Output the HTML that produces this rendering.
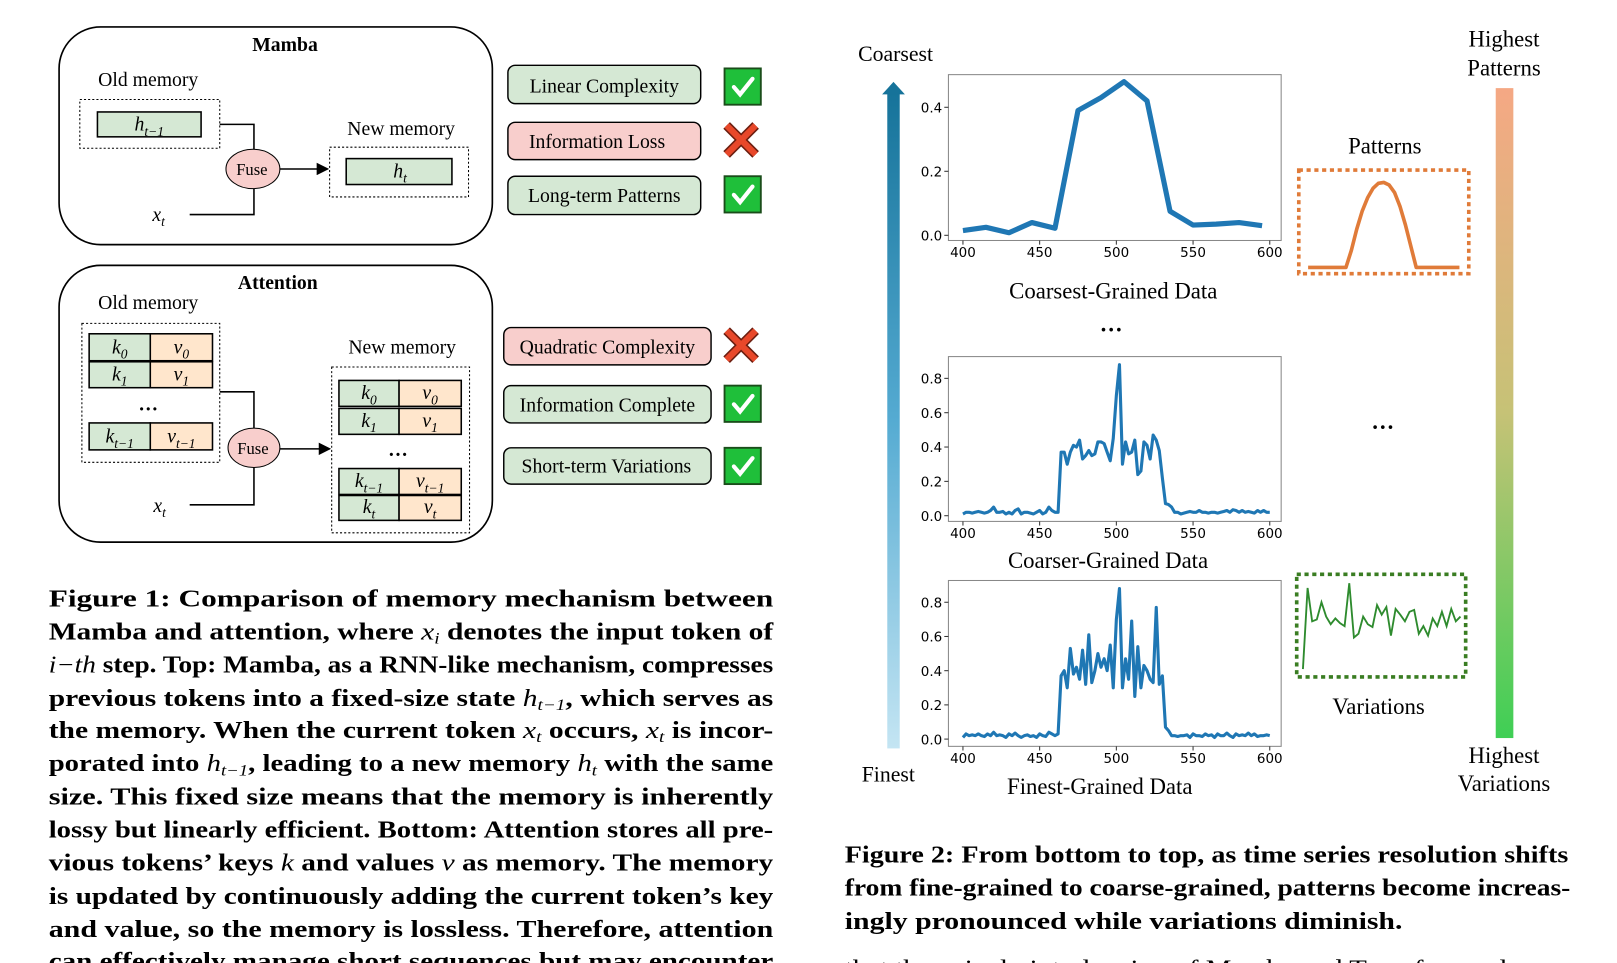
<!DOCTYPE html>
<html><head><meta charset="utf-8"><style>
html,body{margin:0;padding:0;background:#fff;overflow:hidden}
svg{display:block}
.serif{font-family:"Liberation Serif",serif}
.sans{font-family:"DejaVu Sans","Liberation Sans",sans-serif}
</style></head><body>
<svg id="root" width="1617" height="963" viewBox="0 0 1560 929" preserveAspectRatio="none" xmlns="http://www.w3.org/2000/svg">
<defs>
<linearGradient id="gBlue" x1="0" y1="0" x2="0" y2="1"><stop offset="0" stop-color="#16739a"/><stop offset="0.5" stop-color="#55abd2"/><stop offset="1" stop-color="#c4e5f3"/></linearGradient>
<linearGradient id="gOG" x1="0" y1="0" x2="0" y2="1"><stop offset="0" stop-color="#f5a884"/><stop offset="0.5" stop-color="#c6c276"/><stop offset="1" stop-color="#3fcf55"/></linearGradient>
<marker id="arr" markerWidth="8" markerHeight="8" refX="7" refY="4" orient="auto"><path d="M0,0 L8,4 L0,8 z" fill="#000"/></marker>
</defs>

<!-- ===== Mamba panel ===== -->
<g class="serif">
<rect x="57" y="26" width="418" height="210" rx="40" fill="none" stroke="#000" stroke-width="1.6"/>
<text x="275" y="49" text-anchor="middle" font-size="19" font-weight="bold">Mamba</text>
<text x="143" y="83" text-anchor="middle" font-size="19">Old memory</text>
<rect x="77" y="96" width="135" height="47" fill="none" stroke="#000" stroke-dasharray="2,2"/>
<rect x="94" y="108" width="100" height="24" fill="#d5e8d4" stroke="#000" stroke-width="1.5"/>
<text x="144" y="126" text-anchor="middle" font-size="19" font-style="italic">h<tspan font-size="13" dy="5">t−1</tspan></text>
<polyline points="212,120 245,120 245,144" fill="none" stroke="#000" stroke-width="1.5"/>
<polyline points="183,207 245,207 245,182" fill="none" stroke="#000" stroke-width="1.5"/>
<ellipse cx="244" cy="163" rx="26" ry="19" fill="#f8cecc" stroke="#000" stroke-width="1"/>
<text x="243" y="169" text-anchor="middle" font-size="16">Fuse</text>
<line x1="270" y1="163" x2="316" y2="163" stroke="#000" stroke-width="1.5" marker-end="url(#arr)"/>
<text x="387" y="130" text-anchor="middle" font-size="19">New memory</text>
<rect x="318" y="142" width="134" height="48" fill="none" stroke="#000" stroke-dasharray="2,2"/>
<rect x="334" y="153" width="102" height="25" fill="#d5e8d4" stroke="#000" stroke-width="1.5"/>
<text x="386" y="171" text-anchor="middle" font-size="19" font-style="italic">h<tspan font-size="13" dy="5">t</tspan></text>
<text x="153" y="213" text-anchor="middle" font-size="19" font-style="italic">x<tspan font-size="13" dy="5">t</tspan></text>
</g>

<g class="serif" font-size="19">
<rect x="490" y="63" width="186" height="37" rx="7" fill="#d5e8d4" stroke="#000" stroke-width="1.4"/>
<text x="583" y="89" text-anchor="middle">Linear Complexity</text>
<rect x="490" y="118" width="186" height="36" rx="7" fill="#f8cecc" stroke="#000" stroke-width="1.4"/>
<text x="576" y="143" text-anchor="middle">Information Loss</text>
<rect x="490" y="170" width="186" height="37" rx="7" fill="#d5e8d4" stroke="#000" stroke-width="1.4"/>
<text x="583" y="195" text-anchor="middle">Long-term Patterns</text>
</g>

<!-- ===== Attention panel ===== -->
<g class="serif">
<rect x="57" y="256" width="418" height="267" rx="40" fill="none" stroke="#000" stroke-width="1.6"/>
<text x="268" y="279" text-anchor="middle" font-size="19" font-weight="bold">Attention</text>
<text x="143" y="298" text-anchor="middle" font-size="19">Old memory</text>
<rect x="79" y="312" width="133" height="134" fill="none" stroke="#000" stroke-dasharray="2,2"/>
<g id="oldkv"></g>
<text x="143" y="396" text-anchor="middle" font-size="19" font-weight="bold">…</text>
<polyline points="212,378 245,378 245,413" fill="none" stroke="#000" stroke-width="1.5"/>
<polyline points="183,487 245,487 245,451" fill="none" stroke="#000" stroke-width="1.5"/>
<ellipse cx="245" cy="432" rx="25" ry="19" fill="#f8cecc" stroke="#000" stroke-width="1"/>
<text x="244" y="438" text-anchor="middle" font-size="16">Fuse</text>
<line x1="270" y1="433" x2="318" y2="433" stroke="#000" stroke-width="1.5" marker-end="url(#arr)"/>
<text x="388" y="341" text-anchor="middle" font-size="19">New memory</text>
<rect x="320" y="354" width="133" height="160" fill="none" stroke="#000" stroke-dasharray="2,2"/>
<g id="newkv"></g>
<text x="384" y="440" text-anchor="middle" font-size="19" font-weight="bold">…</text>
<text x="154" y="494" text-anchor="middle" font-size="19" font-style="italic">x<tspan font-size="13" dy="5">t</tspan></text>
</g>

<g class="serif" font-size="19">
<rect x="486" y="316" width="200" height="36" rx="7" fill="#f8cecc" stroke="#000" stroke-width="1.4"/>
<text x="586" y="341" text-anchor="middle">Quadratic Complexity</text>
<rect x="486" y="372" width="200" height="36" rx="7" fill="#d5e8d4" stroke="#000" stroke-width="1.4"/>
<text x="586" y="397" text-anchor="middle">Information Complete</text>
<rect x="486" y="432" width="200" height="35" rx="7" fill="#d5e8d4" stroke="#000" stroke-width="1.4"/>
<text x="585" y="456" text-anchor="middle">Short-term Variations</text>
</g>

<g id="marks"></g>

<!-- ===== Figure 1 caption ===== -->
<g class="serif" font-size="23" font-weight="bold">
<text x="47" y="585" textLength="699" lengthAdjust="spacingAndGlyphs">Figure 1: Comparison of memory mechanism between</text>
<text x="47" y="617" textLength="699" lengthAdjust="spacingAndGlyphs">Mamba and attention, where <tspan font-weight="normal" font-style="italic">x</tspan><tspan font-weight="normal" font-style="italic" font-size="15" dy="4">i</tspan><tspan dy="-4"> denotes the input token of</tspan></text>
<text x="47" y="649" textLength="699" lengthAdjust="spacingAndGlyphs"><tspan font-weight="normal" font-style="italic">i−th</tspan> step. Top: Mamba, as a RNN-like mechanism, compresses</text>
<text x="47" y="681" textLength="699" lengthAdjust="spacingAndGlyphs">previous tokens into a fixed-size state <tspan font-weight="normal" font-style="italic">h</tspan><tspan font-weight="normal" font-style="italic" font-size="15" dy="4">t−1</tspan><tspan dy="-4">, which serves as</tspan></text>
<text x="47" y="712" textLength="699" lengthAdjust="spacingAndGlyphs">the memory. When the current token <tspan font-weight="normal" font-style="italic">x</tspan><tspan font-weight="normal" font-style="italic" font-size="15" dy="4">t</tspan><tspan dy="-4"> occurs, </tspan><tspan font-weight="normal" font-style="italic">x</tspan><tspan font-weight="normal" font-style="italic" font-size="15" dy="4">t</tspan><tspan dy="-4"> is incor-</tspan></text>
<text x="47" y="744" textLength="699" lengthAdjust="spacingAndGlyphs">porated into <tspan font-weight="normal" font-style="italic">h</tspan><tspan font-weight="normal" font-style="italic" font-size="15" dy="4">t−1</tspan><tspan dy="-4">, leading to a new memory </tspan><tspan font-weight="normal" font-style="italic">h</tspan><tspan font-weight="normal" font-style="italic" font-size="15" dy="4">t</tspan><tspan dy="-4"> with the same</tspan></text>
<text x="47" y="776" textLength="699" lengthAdjust="spacingAndGlyphs">size. This fixed size means that the memory is inherently</text>
<text x="47" y="808" textLength="699" lengthAdjust="spacingAndGlyphs">lossy but linearly efficient. Bottom: Attention stores all pre-</text>
<text x="47" y="840" textLength="699" lengthAdjust="spacingAndGlyphs">vious tokens’ keys <tspan font-weight="normal" font-style="italic">k</tspan> and values <tspan font-weight="normal" font-style="italic">v</tspan> as memory. The memory</text>
<text x="47" y="872" textLength="699" lengthAdjust="spacingAndGlyphs">is updated by continuously adding the current token’s key</text>
<text x="47" y="904" textLength="699" lengthAdjust="spacingAndGlyphs">and value, so the memory is lossless. Therefore, attention</text>
<text x="47" y="935" textLength="699" lengthAdjust="spacingAndGlyphs">can effectively manage short sequences but may encounter</text>
</g>

<!-- ===== Figure 2 ===== -->
<g>
<text class="serif" x="864" y="59" text-anchor="middle" font-size="21">Coarsest</text>
<rect x="856" y="90" width="12" height="632" fill="url(#gBlue)"/>
<polygon points="851,91 862,79 873,91" fill="#16739a"/>
<text class="serif" x="857" y="754" text-anchor="middle" font-size="21">Finest</text>
</g>
<g id="charts"></g>
<g class="serif" font-size="22">
<text x="1074" y="288" text-anchor="middle">Coarsest-Grained Data</text>
<text x="1072" y="320" text-anchor="middle" font-weight="bold">…</text>
<text x="1069" y="548" text-anchor="middle">Coarser-Grained Data</text>
<text x="1061" y="766" text-anchor="middle">Finest-Grained Data</text>
<text x="1336" y="148" text-anchor="middle">Patterns</text>
<text x="1334" y="414" text-anchor="middle" font-weight="bold">…</text>
<text x="1330" y="689" text-anchor="middle">Variations</text>
<text x="1451" y="45" text-anchor="middle">Highest</text>
<text x="1451" y="73" text-anchor="middle">Patterns</text>
<text x="1451" y="736" text-anchor="middle">Highest</text>
<text x="1451" y="763" text-anchor="middle">Variations</text>
</g>
<rect x="1443" y="85" width="17" height="627" fill="url(#gOG)"/>
<rect x="1253" y="164" width="164" height="100" fill="none" stroke="#e07b39" stroke-width="3.5" stroke-dasharray="4,3.5"/>
<rect x="1251" y="554" width="163" height="99" fill="none" stroke="#3a7d22" stroke-width="3.5" stroke-dasharray="4,3.5"/>
<g id="sparks"></g>

<g class="serif" font-size="23" font-weight="bold">
<text x="815" y="832" textLength="698" lengthAdjust="spacingAndGlyphs">Figure 2: From bottom to top, as time series resolution shifts</text>
<text x="815" y="864" textLength="700" lengthAdjust="spacingAndGlyphs">from fine-grained to coarse-grained, patterns become increas-</text>
<text x="815" y="896" textLength="538" lengthAdjust="spacingAndGlyphs">ingly pronounced while variations diminish.</text>
</g>
<text class="serif" x="815" y="942" font-size="23" textLength="698" lengthAdjust="spacingAndGlyphs">that the naively interleaving of Mamba and Transformer layers</text>
</svg>

<script>
const coarsestX = [400,415,430,445,460,475,490,505,520,535,550,565,580,595];
const coarsestY = [0.015,0.025,0.008,0.04,0.022,0.39,0.43,0.48,0.42,0.075,0.032,0.035,0.04,0.03];
const coarserY = [0.01,0.02,0.02,0.015,0.02,0.025,0.02,0.015,0.02,0.03,0.05,0.02,0.02,0.025,0.01,0.02,0.01,0.03,0.04,0.01,0.02,0.02,0.015,0.01,0.02,0.03,0.01,0.02,0.05,0.03,0.02,
0.02,0.37,0.37,0.30,0.37,0.41,0.40,0.44,0.33,0.35,0.38,0.35,0.36,0.43,0.43,0.42,0.37,0.32,0.45,0.70,0.88,0.30,0.43,0.36,0.37,0.44,0.24,0.26,0.43,0.41,0.33,0.47,0.44,0.38,0.22,0.07,0.065,0.05,0.02,0.02,0.01,
0.015,0.02,0.025,0.02,0.02,0.03,0.02,0.02,0.015,0.02,0.02,0.015,0.02,0.025,0.03,0.02,0.035,0.03,0.02,0.03,0.02,0.025,0.02,0.015,0.03,0.02,0.03,0.02,0.02];
const finestY = [0.01,0.03,0.02,0.025,0.02,0.03,0.02,0.015,0.03,0.02,0.04,0.02,0.025,0.02,0.01,0.03,0.02,0.035,0.02,0.01,0.02,0.025,0.015,0.02,0.01,0.03,0.02,0.015,0.04,0.03,0.02,
0.03,0.37,0.40,0.30,0.53,0.38,0.42,0.35,0.52,0.32,0.61,0.33,0.40,0.50,0.42,0.47,0.40,0.55,0.30,0.70,0.88,0.30,0.47,0.35,0.69,0.25,0.54,0.30,0.43,0.40,0.35,0.33,0.77,0.32,0.37,0.07,0.05,0.02,0.02,0.015,0.02,
0.02,0.025,0.01,0.03,0.02,0.02,0.015,0.03,0.02,0.025,0.01,0.03,0.02,0.02,0.035,0.02,0.01,0.03,0.02,0.025,0.02,0.035,0.02,0.03,0.015,0.02,0.02,0.025,0.02];
const xTicks = [400,450,500,550,600];
const coarsestTicks = [0.0,0.2,0.4];
const fineTicks = [0.0,0.2,0.4,0.6,0.8];
const patternShape = [0,0,0,0,0,0,0,0,0.2,0.45,0.66,0.82,0.93,0.99,1,0.97,0.88,0.72,0.5,0.25,0,0,0,0,0,0,0,0,0];
const variationShape = [0.05,0.9,0.55,0.57,0.75,0.6,0.52,0.58,0.53,0.5,0.95,0.38,0.42,0.6,0.52,0.49,0.72,0.62,0.7,0.4,0.68,0.62,0.55,0.65,0.67,0.42,0.5,0.4,0.58,0.5,0.65,0.5,0.68,0.55,0.6];

const NS='http://www.w3.org/2000/svg';
function mk(tag, attrs, parent){const e=document.createElementNS(NS,tag);for(const k in attrs)e.setAttribute(k,attrs[k]);parent.appendChild(e);return e;}

const step2X = coarserY.map((_,i)=>400+2*i);

function drawChart(name, box, ymin, ymax, yticks, xs, ys, lw){
  const g=mk('g',{},document.getElementById('charts'));
  
  
  const xS=v=>929+(v-400)*1.48;
  const yS=v=>box.y0+(v-ymin)/(ymax-ymin)*(box.y1-box.y0);
  const d=xs.map((x,i)=>(i?'L':'M')+xS(x).toFixed(1)+','+yS(ys[i]).toFixed(1)).join(' ');
  const line=mk('path',{d:d,fill:'none',stroke:'#1f77b4','stroke-width':lw,'stroke-linejoin':'round'},g);
  
  
  const frame=mk('rect',{x:915,y:box.top,width:321,height:box.bot-box.top,fill:'none',stroke:'#888','stroke-width':1},g);
  
  
  yticks.forEach(t=>{
    const y=yS(t);
    mk('line',{x1:911,x2:915,y1:y,y2:y,stroke:'#333'},g);
    const tx=mk('text',{x:909,y:y+5,'text-anchor':'end','font-size':13,class:'sans'},g);
    
    
    tx.textContent=t.toFixed(1);
  });
  xTicks.forEach(t=>{
    const x=xS(t);
    mk('line',{x1:x,x2:x,y1:box.bot,y2:box.bot+4,stroke:'#333'},g);
    const tx=mk('text',{x:x,y:box.bot+16,'text-anchor':'middle','font-size':13,class:'sans'},g);
    
    
    tx.textContent=t;
  });
}
drawChart('coarsest-chart',{top:72,bot:232,y0:227,y1:103.5},0,0.4,coarsestTicks,coarsestX,coarsestY,5);
drawChart('coarser-chart',{top:344,bot:503,y0:497.5,y1:365},0,0.8,fineTicks,step2X,coarserY,3);
drawChart('finest-chart',{top:560,bot:720,y0:713,y1:581},0,0.8,fineTicks,step2X,finestY,3);

(function(){
  const sp=document.getElementById('sparks');
  const n1=patternShape.length;
  const d1=patternShape.map((v,i)=>(i?'L':'M')+(1262+i*(146/(n1-1))).toFixed(1)+','+(258-v*82).toFixed(1)).join(' ');
  const p=mk('path',{d:d1,fill:'none',stroke:'#e07b39','stroke-width':3.5,'stroke-linejoin':'round'},sp);
  
  
  const n2=variationShape.length;
  const d2=variationShape.map((v,i)=>(i?'L':'M')+(1257+i*(152/(n2-1))).toFixed(1)+','+(650-v*92).toFixed(1)).join(' ');
  const q=mk('path',{d:d2,fill:'none',stroke:'#2e8b2e','stroke-width':1.8},sp);
  
  
})();

function kvRow(parent,x,y,kx,ksub,w1,w2,h){
  const c1=mk('rect',{x:x,y:y,width:w1,height:h,fill:'#d5e8d4',stroke:'#000','stroke-width':1.5},parent);
  
  
  const c2=mk('rect',{x:x+w1,y:y,width:w2,height:h,fill:'#ffe6cc',stroke:'#000','stroke-width':1.5},parent);
  
  
  [[ 'k', x+w1/2],[ 'v', x+w1+w2/2]].forEach(([s,cx])=>{
    const t=mk('text',{x:cx,y:y+h-7,'text-anchor':'middle','font-size':19,'font-style':'italic',class:'serif'},parent);
    t.textContent=s;
    const sb=mk('tspan',{'font-size':13,dy:5},t);
    sb.textContent=ksub;
  });
}
const ok=document.getElementById('oldkv');
kvRow(ok,86,322,0,'0',59,60,26);
kvRow(ok,86,349,0,'1',59,60,25);
kvRow(ok,86,408,0,'t−1',59,60,26);
const nk=document.getElementById('newkv');
kvRow(nk,327,367,0,'0',58,60,25);
kvRow(nk,327,394,0,'1',58,60,25);
kvRow(nk,327,452,0,'t−1',58,60,25);
kvRow(nk,327,478,0,'t',58,60,24);

const marks=document.getElementById('marks');
function check(x,y,name){
  const g=mk('g',{},marks);
  
  
  mk('rect',{x:x,y:y,width:35,height:35,fill:'#1fbf3a',stroke:'#1a4d1a','stroke-width':1.8},g);
  mk('polyline',{points:`${x+9},${y+18} ${x+15},${y+25} ${x+27},${y+10}`,fill:'none',stroke:'#fff','stroke-width':4,'stroke-linecap':'round'},g);
}
function cross(cx,cy,name){
  const g=mk('g',{},marks);
  
  
  const d=`M${cx-14},${cy-14} L${cx+14},${cy+14} M${cx+14},${cy-14} L${cx-14},${cy+14}`;
  mk('path',{d:d,stroke:'#6b1e10','stroke-width':9},g);
  mk('path',{d:d,stroke:'#e8482a','stroke-width':6},g);
}
check(699,66,'check-linear-complexity');
cross(715,135,'cross-information-loss');
check(699,170,'check-long-term-patterns');
cross(715,333,'cross-quadratic-complexity');
check(699,372,'check-information-complete');
check(699,432,'check-short-term-variations');
</script>
</body></html>
